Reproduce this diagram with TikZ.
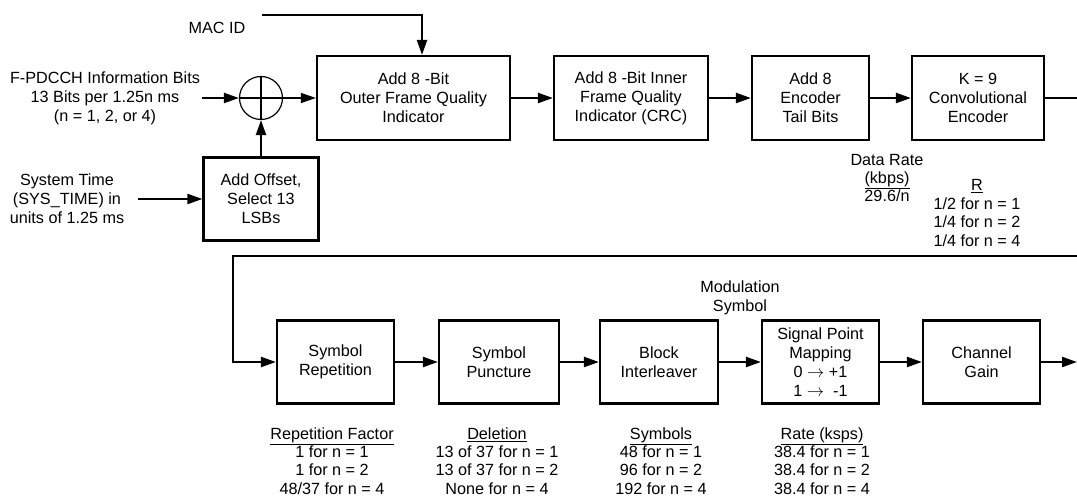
\documentclass[tikz,border=0pt]{standalone}
\usepackage{fontspec}
\setmainfont{Liberation Sans}
\usetikzlibrary{arrows.meta}
\begin{document}
\begin{tikzpicture}[x=1pt,y=-1pt,
  every node/.style={font=\fontsize{16.2}{19}\selectfont, inner sep=0pt, align=center},
  blk/.style={draw, line width=2.2pt, minimum height=84pt},
  conn/.style={line width=2.2pt},
  arr/.style={line width=2.2pt, -{Triangle[length=15pt,width=10pt]}},
  thinarr/.style={line width=1.2pt, -{Triangle[length=15pt,width=10pt]}},
  thinline/.style={line width=1.2pt},
  lbl/.style={font=\fontsize{16.2}{18.4}\selectfont}]
\useasboundingbox (0,0) rectangle (1077,497);

% top row
\node[blk, minimum width=193pt] (outer) at (413.5,98) {Add 8 -Bit\\Outer Frame Quality\\Indicator};
\node[blk, minimum width=154pt] (inner) at (631,98) {Add 8 -Bit Inner\\Frame Quality\\Indicator (CRC)};
\node[blk, minimum width=117pt] (tail) at (810.5,98) {Add 8\\Encoder\\Tail Bits};
\node[blk, minimum width=132pt] (conv) at (978,98) {K = 9\\Convolutional\\Encoder};
\node[blk, minimum width=115pt, minimum height=83pt] (offset) at (261,199) {Add Offset,\\Select 13\\LSBs};
\node[draw, thinline, circle, minimum size=43pt] (adder) at (261,98) {};
\draw[thinline] (adder.west) -- (adder.east);
\draw[conn] (adder.north) -- (adder.south);

% input texts
\node (mac) at (217,28) {MAC ID};
\node (fpd) at (105,98) {F-PDCCH Information Bits\\13 Bits per 1.25n ms\\(n = 1, 2, or 4)};
\node (sys) at (67,199) {System Time\\(SYS\_TIME) in\\units of 1.25 ms};

\coordinate (macstart) at (262,15);
\coordinate (fin) at (202,98);
\coordinate (sin) at (138,199);
\coordinate (r1) at (1077,98);
\coordinate (r2) at (1077,256);
\coordinate (l2) at (233,256);
\coordinate (out) at (1077,362);

\draw[arr] (macstart) -| ([xshift=8.5pt]outer.north);
\draw[arr] (fin) -- (adder.west);
\draw[thinarr] (adder.east) -- (outer.west);
\draw[arr] (sin) -- (offset.west);
\draw[arr] (offset.north) -- (adder.south);
\draw[arr] (outer.east) -- (inner.west);
\draw[arr] (inner.east) -- (tail.west);
\draw[arr] (tail.east) -- (conv.west);
\draw[conn] (conv.east) -- (r1);

% rate labels
\node[lbl] (datarate) at (887,178) {Data Rate\\\underline{(kbps)}\\29.6/n};
\node[lbl] (rlab) at (977,213) {\underline{R}\\1/2 for n = 1\\1/4 for n = 2\\1/4 for n = 4};

% bottom row
\node[blk, minimum width=117pt, minimum height=83pt] (rep) at (335.5,362) {Symbol\\Repetition};
\node[blk, minimum width=120pt, minimum height=83pt] (punct) at (499,362) {Symbol\\Puncture};
\node[blk, minimum width=118pt, minimum height=83pt] (block) at (659,362) {Block\\Interleaver};
\node[blk, minimum width=117pt, minimum height=83pt, font=\fontsize{16.2}{19}\selectfont] (spm) at (820.5,362) {Signal Point\\Mapping\\0 \(\rightarrow\) +1\\1 \(\rightarrow\)\ \ -1};
\node[blk, minimum width=117pt, minimum height=83pt] (gain) at (981.5,362) {Channel\\Gain};

\draw[arr] (r2) -- (l2) |- (rep.west);
\draw[arr] (rep.east) -- (punct.west);
\draw[arr] (punct.east) -- (block.west);
\draw[arr] (block.east) -- (spm.west);
\draw[arr] (spm.east) -- (gain.west);
\draw[arr] (gain.east) -- (out);

\node[lbl] (modsym) at (740,298) {Modulation\\Symbol};
\node[lbl] (repf) at (332,461) {\underline{Repetition Factor}\\1 for n = 1\\1 for n = 2\\48/37 for n = 4};
\node[lbl] (del) at (497,461) {\underline{Deletion}\\13 of 37 for n = 1\\13 of 37 for n = 2\\None for n = 4};
\node[lbl] (sym) at (661,461) {\underline{Symbols}\\48 for n = 1\\96 for n = 2\\192 for n = 4};
\node[lbl] (rks) at (822,461) {\underline{Rate (ksps)}\\38.4 for n = 1\\38.4 for n = 2\\38.4 for n = 4};
\end{tikzpicture}
\end{document}
